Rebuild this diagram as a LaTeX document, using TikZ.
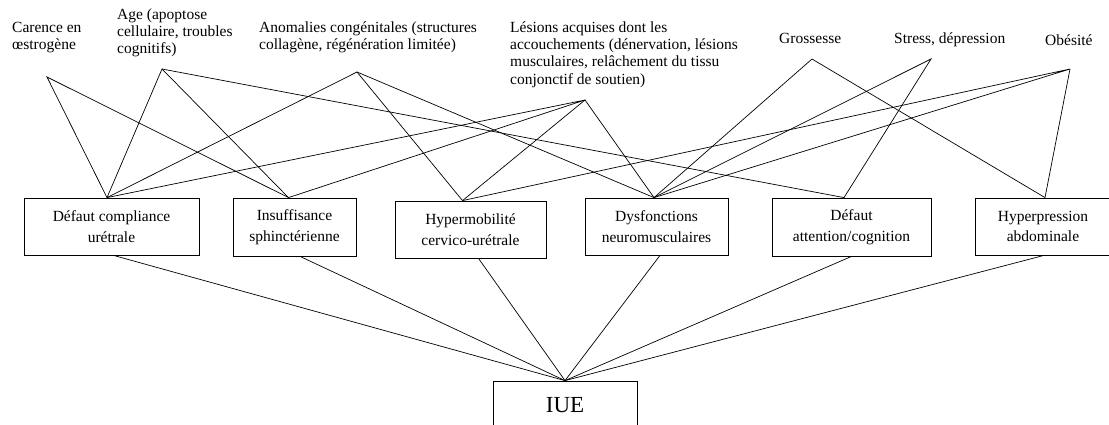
\documentclass[tikz,border=0pt]{standalone}
\usepackage{fontspec}
\setmainfont{Liberation Serif}
\begin{document}
\begin{tikzpicture}[x=1pt,y=-1pt,
  lbl/.style={anchor=north west,inner sep=0pt,align=left,font=\fontsize{15.5}{17.3}\selectfont},
  box/.style={draw,line width=0.8pt,align=center,inner sep=2pt,font=\fontsize{15.5}{20.5}\selectfont},
  link/.style={line width=0.7pt}]
\useasboundingbox (0,0) rectangle (1109,425);
\clip (0,0) rectangle (1109,425);
% factor labels
\node[lbl] (car) at (12,20) {\strut Carence en\\œstrogène};
\node[lbl] (age) at (117,7) {\strut Age (apoptose\\cellulaire, troubles\\cognitifs)};
\node[lbl] (ano) at (259,20) {\strut Anomalies congénitales (structures\\collagène, régénération limitée)};
\node[lbl] (les) at (510,20) {\strut Lésions acquises dont les\\accouchements (dénervation, lésions\\musculaires, relâchement du tissu\\conjonctif de soutien)};
\node[lbl] (gro) at (779,31) {\strut Grossesse};
\node[lbl] (str) at (894,31) {\strut Stress, dépression};
\node[lbl] (obe) at (1045,33) {\strut Obésité};
% tips
\coordinate (tcar) at (47,77);
\coordinate (tage) at (162,69);
\coordinate (tano) at (357,72);
\coordinate (tles) at (585,100);
\coordinate (tgro) at (812,59);
\coordinate (tstr) at (931,59);
\coordinate (tobe) at (1070,69);
% mechanism boxes
\node[box,minimum width=175,minimum height=57] (b1) at (111.5,226.5) {Défaut compliance\\urétrale};
\node[box,minimum width=123,minimum height=58] (b2) at (294.5,227) {Insuffisance\\sphinctérienne};
\node[box,minimum width=151,minimum height=57] (b3) at (470.5,229.5) {Hypermobilité\\cervico-urétrale};
\node[box,minimum width=143,minimum height=57] (b4) at (656.5,226.5) {Dysfonctions\\neuromusculaires};
\node[box,minimum width=159,minimum height=58] (b5) at (851.5,227) {Défaut\\attention/cognition};
\node[box,minimum width=136,minimum height=57] (b6) at (1043,226.5) {Hyperpression\\abdominale};
% outcome
\node[draw,line width=0.8pt,minimum width=144,minimum height=48,font=\fontsize{23}{26}\selectfont] (iue) at (565,405) {IUE};
% top anchors
\coordinate (n1) at ([xshift=-4.5]b1.north);
\coordinate (n2) at ([xshift=-6]b2.north);
\coordinate (n3) at ([xshift=-8]b3.north);
\coordinate (n4) at ([xshift=-2.5]b4.north);
\coordinate (n5) at ([xshift=-7.5]b5.north);
\coordinate (n6) at ([xshift=2]b6.north);
% factor -> mechanism
\draw[link] (n1) -- (tcar) -- (n2);
\draw[link] (n1) -- (tage) -- (n2);
\draw[link] (tage) -- (n5);
\draw[link] (n1) -- (tano) -- (n3);
\draw[link] (tano) -- (n4);
\draw[link] (n1) -- (tles) -- (n2);
\draw[link] (n3) -- (tles) -- (n4);
\draw[link] (n4) -- (tgro) -- (n6);
\draw[link] (n4) -- (tstr) -- (n5);
\draw[link] (n3) -- (tobe) -- (n4);
\draw[link] (tobe) -- (n6);
% mechanism -> IUE
\draw[link] ([xshift=2]b1.south) -- (iue.north);
\draw[link] ([xshift=5.5]b2.south) -- (iue.north);
\draw[link] ([xshift=8]b3.south) -- (iue.north);
\draw[link] ([xshift=3.5]b4.south) -- (iue.north);
\draw[link] (b5.south) -- (iue.north);
\draw[link] ([xshift=1]b6.south) -- (iue.north);
\end{tikzpicture}
\end{document}
